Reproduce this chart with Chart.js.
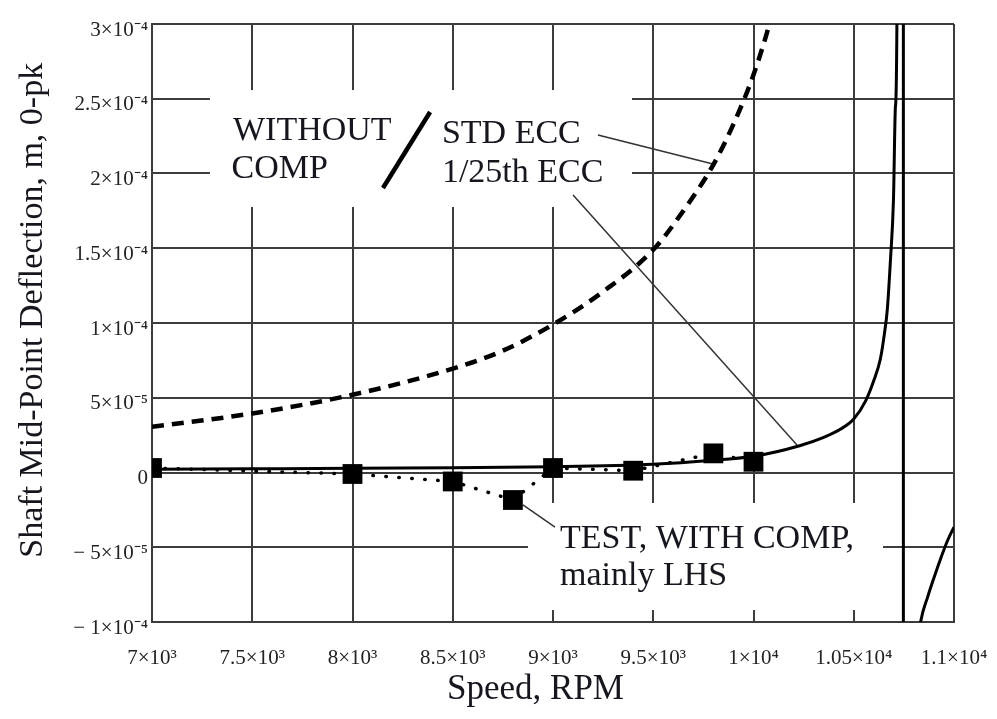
<!DOCTYPE html>
<html>
<head>
<meta charset="utf-8">
<script src="https://cdn.jsdelivr.net/npm/chart.js@4.4.1/dist/chart.umd.min.js"></script>
<style>
html,body{margin:0;padding:0;background:#fff;}
#wrap{width:997px;height:719px;position:relative;}
</style>
</head>
<body>
<div id="wrap"><canvas id="c" width="997" height="719"></canvas></div>
<script>
// ---- data ----
const speedStdEcc = [7000, 7500, 8000, 8500, 8750, 9000, 9250, 9500, 9650, 9800, 9900, 10000, 10080, 10120];
const deflStdEcc  = [3.06e-5, 3.95e-5, 5.2e-5, 6.95e-5, 8.15e-5, 9.9e-5, 1.21e-4, 1.49e-4, 1.75e-4, 2.06e-4, 2.33e-4, 2.66e-4, 3.0e-4, 3.2e-4];

const speed25thEcc = [7000, 7500, 8000, 8500, 9000, 9500, 9800, 10000, 10230, 10350, 10435, 10500, 10560, 10600, 10633, 10653, 10667, 10683, 10698, 10708, 10716, 10746, 10749, 10780, 10810, 10835, 10868, 10901, 10935, 10968, 11000];
const defl25thEcc  = [2.2e-6, 2.5e-6, 2.8e-6, 3.2e-6, 3.8e-6, 5.5e-6, 8.2e-6, 1.08e-5, 1.79e-5, 2.35e-5, 2.91e-5, 3.58e-5, 4.81e-5, 6.15e-5, 7.61e-5, 9.29e-5, 1.085e-4, 1.42e-4, 1.82e-4, 2.45e-4, 3.2e-4, 1e-2, -1e-2, -2e-4, -1.25e-4, -9.9e-5, -8.35e-5, -7.0e-5, -5.7e-5, -4.55e-5, -3.65e-5];

const testSpeed = [7000, 8000, 8500, 8800, 9000, 9400, 9800, 10000];
const testDefl  = [3e-6, -1e-6, -6e-6, -1.84e-5, 3e-6, 1.2e-6, 1.28e-5, 7.2e-6];

const xTickValues = [7000, 7500, 8000, 8500, 9000, 9500, 10000, 10500, 11000];
const xTickLabels = ['7×10³', '7.5×10³', '8×10³', '8.5×10³', '9×10³', '9.5×10³', '1×10⁴', '1.05×10⁴', '1.1×10⁴'];
const yTickValues = [-1e-4, -5e-5, 0, 5e-5, 1e-4, 1.5e-4, 2e-4, 2.5e-4, 3e-4];
const yTickLabels = ['− 1×10⁻⁴', '− 5×10⁻⁵', '0', '5×10⁻⁵', '1×10⁻⁴', '1.5×10⁻⁴', '2×10⁻⁴', '2.5×10⁻⁴', '3×10⁻⁴'];

const NB = '\u00A0';
const xTitle = 'Speed, RPM' + NB + NB + NB + NB;
const yTitle = NB + NB + NB + 'Shaft Mid-Point Deflection, m, 0-pk';

// ---- annotations (in data coordinates) ----
const annoBoxes = [
  {x0: 7289, x1: 9394, y0: 2.558e-4, y1: 1.776e-4},
  {x0: 8875, x1: 10646, y0: -2.04e-5, y1: -9.2e-5}
];
const annoTexts = [
  {t: 'WITHOUT', x: 7404, y: 2.224e-4},
  {t: 'COMP', x: 7397, y: 1.97e-4},
  {t: 'STD ECC', x: 8446, y: 2.204e-4},
  {t: '1/25th ECC', x: 8446, y: 1.943e-4},
  {t: 'TEST, WITH COMP,', x: 9035, y: -5.05e-5},
  {t: 'mainly LHS', x: 9035, y: -7.5e-5}
];
const annoLines = [
  {x0: 8152, y0: 1.903e-4, x1: 8387, y1: 2.411e-4, w: 4.5, c: '#000'},
  {x0: 9224, y0: 2.258e-4, x1: 9798, y1: 2.064e-4, w: 1.5, c: '#333'},
  {x0: 9100, y0: 1.856e-4, x1: 10217, y1: 1.84e-5, w: 1.5, c: '#333'},
  {x0: 8850, y0: -2.17e-5, x1: 9010, y1: -3.65e-5, w: 1.5, c: '#333'}
];

const SERIF = '"Liberation Serif", "Times New Roman", serif';
const TEXT_COLOR = '#16161f';
const GRID_COLOR = '#3c3c3c';

const annotationPlugin = {
  id: 'annot',
  beforeDatasetsDraw(chart) {
    const ctx = chart.ctx, xs = chart.scales.x, ys = chart.scales.y;
    ctx.save();
    ctx.fillStyle = '#ffffff';
    annoBoxes.forEach(b => {
      const a = xs.getPixelForValue(b.x0), bb = xs.getPixelForValue(b.x1);
      const c = ys.getPixelForValue(b.y0), d = ys.getPixelForValue(b.y1);
      ctx.fillRect(Math.min(a, bb), Math.min(c, d), Math.abs(bb - a), Math.abs(d - c));
    });
    annoLines.forEach(l => {
      ctx.beginPath();
      ctx.strokeStyle = l.c;
      ctx.lineWidth = l.w;
      ctx.moveTo(xs.getPixelForValue(l.x0), ys.getPixelForValue(l.y0));
      ctx.lineTo(xs.getPixelForValue(l.x1), ys.getPixelForValue(l.y1));
      ctx.stroke();
    });
    ctx.fillStyle = TEXT_COLOR;
    ctx.font = '34px ' + SERIF;
    ctx.textBaseline = 'alphabetic';
    ctx.textAlign = 'left';
    annoTexts.forEach(t => {
      ctx.fillText(t.t, xs.getPixelForValue(t.x), ys.getPixelForValue(t.y));
    });
    ctx.restore();
  }
};

const toXY = (xsArr, ysArr) => xsArr.map((v, i) => ({x: v, y: ysArr[i]}));

new Chart(document.getElementById('c'), {
  type: 'line',
  data: {
    datasets: [
      {
        label: 'TEST, WITH COMP, mainly LHS',
        data: toXY(testSpeed, testDefl),
        borderColor: '#000',
        borderWidth: 3.5,
        borderDash: [0.5, 12.5],
        borderCapStyle: 'round',
        pointStyle: 'rect',
        pointRadius: 14,
        pointBackgroundColor: '#000',
        pointBorderColor: '#000',
        pointBorderWidth: 0,
        tension: 0,
        clip: 0
      },
      {
        label: '1/25th ECC',
        data: toXY(speed25thEcc, defl25thEcc),
        borderColor: '#000',
        borderWidth: 3,
        pointRadius: 0,
        cubicInterpolationMode: 'monotone',
        clip: 0
      },
      {
        label: 'STD ECC',
        data: toXY(speedStdEcc, deflStdEcc),
        borderColor: '#000',
        borderWidth: 4.5,
        borderDash: [12, 8],
        pointRadius: 0,
        cubicInterpolationMode: 'monotone',
        clip: 0
      }
    ]
  },
  options: {
    responsive: false,
    animation: false,
    events: [],
    layout: {padding: {left: 0, top: 24, right: 43, bottom: 0}},
    plugins: {legend: {display: false}, tooltip: {enabled: false}},
    scales: {
      x: {
        type: 'linear',
        min: 7000, max: 11000,
        afterBuildTicks: a => { a.ticks = xTickValues.map(v => ({value: v})); },
        afterFit: s => { s.height = 97; s.paddingLeft = 0; s.paddingRight = 0; },
        grid: {color: GRID_COLOR, lineWidth: 2, drawTicks: false},
        border: {color: GRID_COLOR, width: 2},
        ticks: {
          callback: (v, i) => xTickLabels[i],
          font: {family: SERIF, size: 21},
          color: '#222',
          padding: 24,
          maxRotation: 0,
          autoSkip: false
        },
        title: {display: true, text: xTitle, font: {family: SERIF, size: 35}, color: TEXT_COLOR, padding: {top: 0, bottom: 8}}
      },
      y: {
        type: 'linear',
        min: -1e-4, max: 3e-4,
        afterBuildTicks: a => { a.ticks = yTickValues.map(v => ({value: v})); },
        afterFit: s => { s.width = 152; s.paddingTop = 0; s.paddingBottom = 0; },
        grid: {color: GRID_COLOR, lineWidth: 2, drawTicks: false},
        border: {color: GRID_COLOR, width: 2},
        ticks: {
          callback: (v, i) => yTickLabels[i],
          font: {family: SERIF, size: 21},
          color: '#222',
          padding: 4,
          labelOffset: 6,
          autoSkip: false
        },
        title: {display: true, text: yTitle, font: {family: SERIF, size: 34}, color: TEXT_COLOR, padding: {top: 13, bottom: 0}}
      }
    }
  },
  plugins: [annotationPlugin]
});
</script>
</body>
</html>
